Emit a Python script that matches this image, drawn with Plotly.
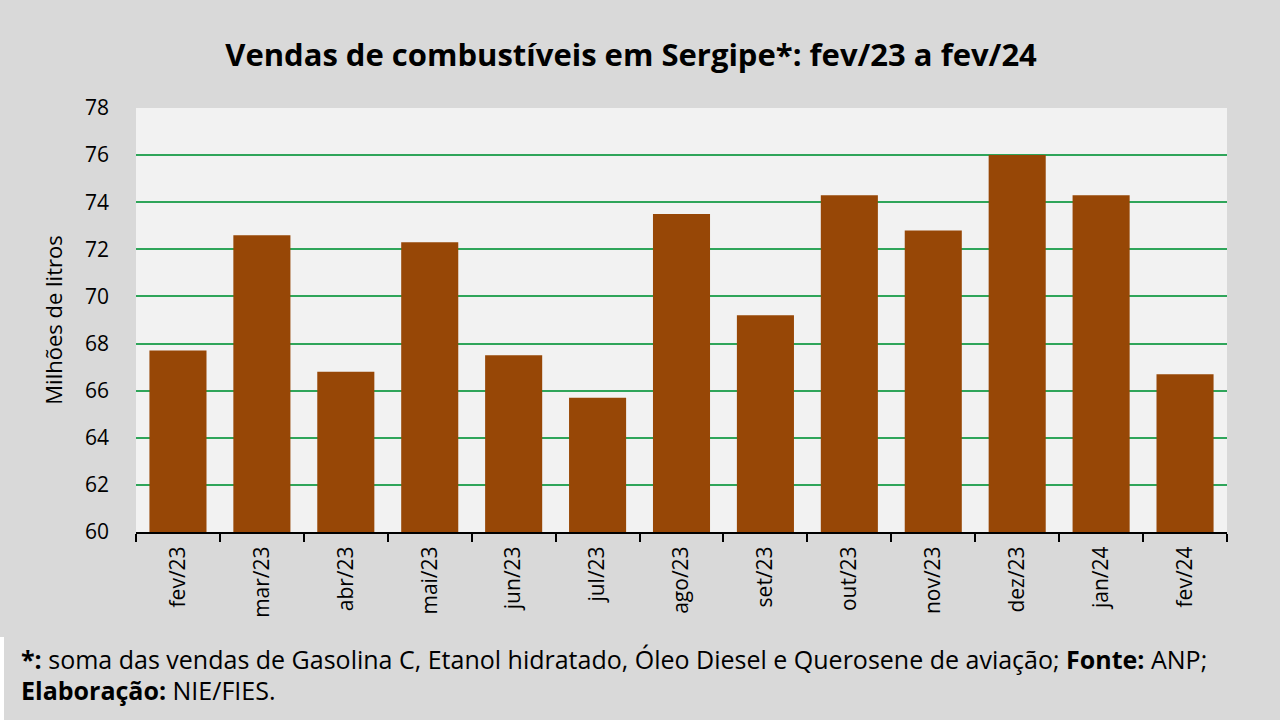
import plotly.graph_objects as go

# dados (milhões de litros)
meses = ["fev/23", "mar/23", "abr/23", "mai/23", "jun/23", "jul/23", "ago/23",
         "set/23", "out/23", "nov/23", "dez/23", "jan/24", "fev/24"]
vendas = [67.7, 72.6, 66.8, 72.3, 67.5, 65.7, 73.5, 69.2, 74.3, 72.8, 76.0, 74.3, 66.7]

y_ticks = [60, 62, 64, 66, 68, 70, 72, 74, 76, 78]

FONTE = "Open Sans"
PW, PH = 1091, 424  # tamanho da área do gráfico em px

fig = go.Figure()

fig.add_trace(go.Bar(
    x=meses,
    y=vendas,
    marker=dict(color="#974706", line=dict(width=0)),
    width=0.68,
    hoverinfo="x+y",
))

fig.update_layout(
    width=1280,
    height=720,
    paper_bgcolor="#d9d9d9",
    plot_bgcolor="#f2f2f2",
    margin=dict(l=136, r=53, t=108, b=188),
    showlegend=False,
    font=dict(family=FONTE, color="#000000"),
    title=dict(
        text="<b>Vendas de combustíveis em Sergipe*: fev/23 a fev/24</b>",
        x=0.493, xanchor="center", xref="container",
        y=1 - 55 / 720, yanchor="middle", yref="container",
        font=dict(size=31, family=FONTE, color="#000000"),
    ),
    xaxis=dict(
        type="category",
        tickangle=-90,
        tickfont=dict(size=21, family=FONTE),
        showline=True, linecolor="#000000", linewidth=2,
        ticks="outside", ticklen=8, tickwidth=2, tickcolor="#000000",
        tickson="boundaries",
        ticklabelstandoff=4,
        showgrid=False,
    ),
    yaxis=dict(
        range=[60, 78],
        tickvals=y_ticks,
        tickfont=dict(size=21, family=FONTE),
        showgrid=True, gridcolor="#2fa55a", gridwidth=2,
        zeroline=False, showline=False,
        ticks="", ticklabelstandoff=26,
        title=dict(text="Milhões de litros", font=dict(size=22, family=FONTE), standoff=16),
    ),
)

# faixa branca do rodapé à esquerda
fig.add_shape(type="rect", xref="paper", yref="paper",
              x0=-136 / PW, x1=-132 / PW, y0=-188 / PH, y1=-105 / PH,
              fillcolor="#ffffff", line=dict(width=0), layer="below")

fig.add_annotation(
    text="<b>*:</b> soma das vendas de Gasolina C, Etanol hidratado, Óleo Diesel e Querosene de aviação; <b>Fonte:</b> ANP;",
    xref="paper", yref="paper", x=-117 / PW, y=-127 / PH,
    xanchor="left", yanchor="middle", showarrow=False,
    font=dict(size=25, family=FONTE, color="#000000"),
)
fig.add_annotation(
    text="<b>Elaboração:</b> NIE/FIES.",
    xref="paper", yref="paper", x=-117 / PW, y=-158 / PH,
    xanchor="left", yanchor="middle", showarrow=False,
    font=dict(size=25, family=FONTE, color="#000000"),
)

fig.write_html("out.html", config={"displayModeBar": False},
               post_script="document.body.style.margin='0px';")
